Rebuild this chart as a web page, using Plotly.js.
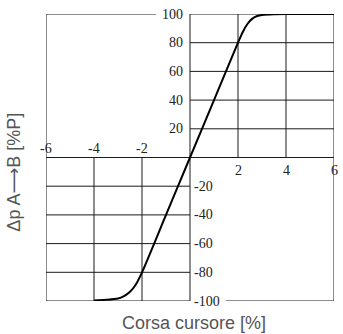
<!DOCTYPE html>
<html>
<head>
<meta charset="utf-8">
<script src="https://cdn.plot.ly/plotly-3.0.1.min.js"></script>
<style>html,body{margin:0;padding:0;background:#fff;}#chart{width:343px;height:334px;}</style>
</head>
<body>
<div id="chart"></div>
<script>
// Curve data (slide travel % vs pressure difference %P)
const stroke = [-4, -3.5, -3, -2.75, -2.5, -2.25, -2, -1, 0, 1, 2, 2.2, 2.4, 2.6, 2.8, 3, 3.5, 4, 5, 6];
const deltaP = [-99.6, -99.2, -98.3, -96.6, -93.6, -88.3, -80, -40, 0, 40, 80, 87.5, 93.2, 96.8, 98.6, 99.3, 99.8, 100, 100, 100];

// Tick labels
const xTicksNeg = [-6, -4, -2];
const xTicksPos = [2, 4, 6];
const yTicksPos = [20, 40, 60, 80, 100];
const yTicksNeg = [-20, -40, -60, -80, -100];

const xTitle = 'Corsa cursore [%]';
const yTitle = 'Δp A<span style="font-family:DejaVu Sans">⟶</span>B [%P]';

const lineCol = '#1a1a1a';
const tickFont = {family: 'Liberation Sans Narrow', size: 14, color: '#222'};
const titleFont = {family: 'Liberation Sans, Arial, sans-serif', size: 18, color: '#555'};

const shapes = [];
function seg(x0, y0, x1, y1, w) {
  shapes.push({type: 'line', xref: 'x', yref: 'y', x0: x0, y0: y0, x1: x1, y1: y1,
    line: {color: lineCol, width: w || 1}, layer: 'below'});
}
// upper-right grid quadrant
seg(0, 100, 6, 100); seg(6, 0, 6, 100);
[2, 4].forEach(v => seg(v, 0, v, 100));
[20, 40, 60, 80].forEach(v => seg(0, v, 6, v));
// lower-left grid quadrant
seg(-6, -100, 0, -100); seg(-6, -100, -6, 0);
[-4, -2].forEach(v => seg(v, -100, v, 0));
[-20, -40, -60, -80].forEach(v => seg(-6, v, 0, v));
// upper-left outline
seg(-6, 0, -6, 100); seg(-6, 100, -1.42, 100);
// lower-right outline
seg(6, -100, 6, 0); seg(1.5, -100, 6, -100);
// main axes through zero
seg(-6, 0, 6, 0); seg(0, -100, 0, 100);

const annotations = [];
xTicksNeg.forEach(v => annotations.push({x: v, y: 0, xref: 'x', yref: 'y', text: String(v),
  showarrow: false, xanchor: 'center', yanchor: 'bottom', yshift: 1, borderpad: 0, font: tickFont}));
xTicksPos.forEach(v => annotations.push({x: v, y: 0, xref: 'x', yref: 'y', text: String(v),
  showarrow: false, xanchor: 'center', yanchor: 'top', yshift: -4, borderpad: 0, font: tickFont}));
yTicksPos.forEach(v => annotations.push({x: 0, y: v, xref: 'x', yref: 'y', text: String(v),
  showarrow: false, xanchor: 'right', yanchor: 'middle', xshift: -6, borderpad: 0, font: tickFont}));
yTicksNeg.forEach(v => annotations.push({x: 0, y: v, xref: 'x', yref: 'y', text: String(v),
  showarrow: false, xanchor: 'left', yanchor: 'middle', xshift: 3, borderpad: 0, font: tickFont}));
annotations.push({x: 0.5, y: 0, xref: 'paper', yref: 'paper', text: xTitle, showarrow: false,
  xanchor: 'center', yanchor: 'middle', xshift: 4, yshift: -22, font: titleFont});
annotations.push({x: 0, y: 0.449, xref: 'paper', yref: 'paper', text: yTitle, showarrow: false,
  textangle: -90, xanchor: 'center', yanchor: 'middle', xshift: -32.5, font: titleFont});

const trace = {
  x: stroke, y: deltaP, type: 'scatter', mode: 'lines',
  line: {color: '#000', width: 2, shape: 'spline', smoothing: 0.8},
  hoverinfo: 'skip'
};

const layout = {
  width: 343, height: 334,
  margin: {l: 46, r: 9, t: 14, b: 33},
  paper_bgcolor: '#fff', plot_bgcolor: '#fff',
  showlegend: false,
  xaxis: {range: [-6, 6], showgrid: false, zeroline: false, showline: false, showticklabels: false, ticks: '', fixedrange: true},
  yaxis: {range: [-100, 100], showgrid: false, zeroline: false, showline: false, showticklabels: false, ticks: '', fixedrange: true},
  shapes: shapes,
  annotations: annotations
};

Plotly.newPlot('chart', [trace], layout, {displayModeBar: false, staticPlot: true});
</script>
</body>
</html>
